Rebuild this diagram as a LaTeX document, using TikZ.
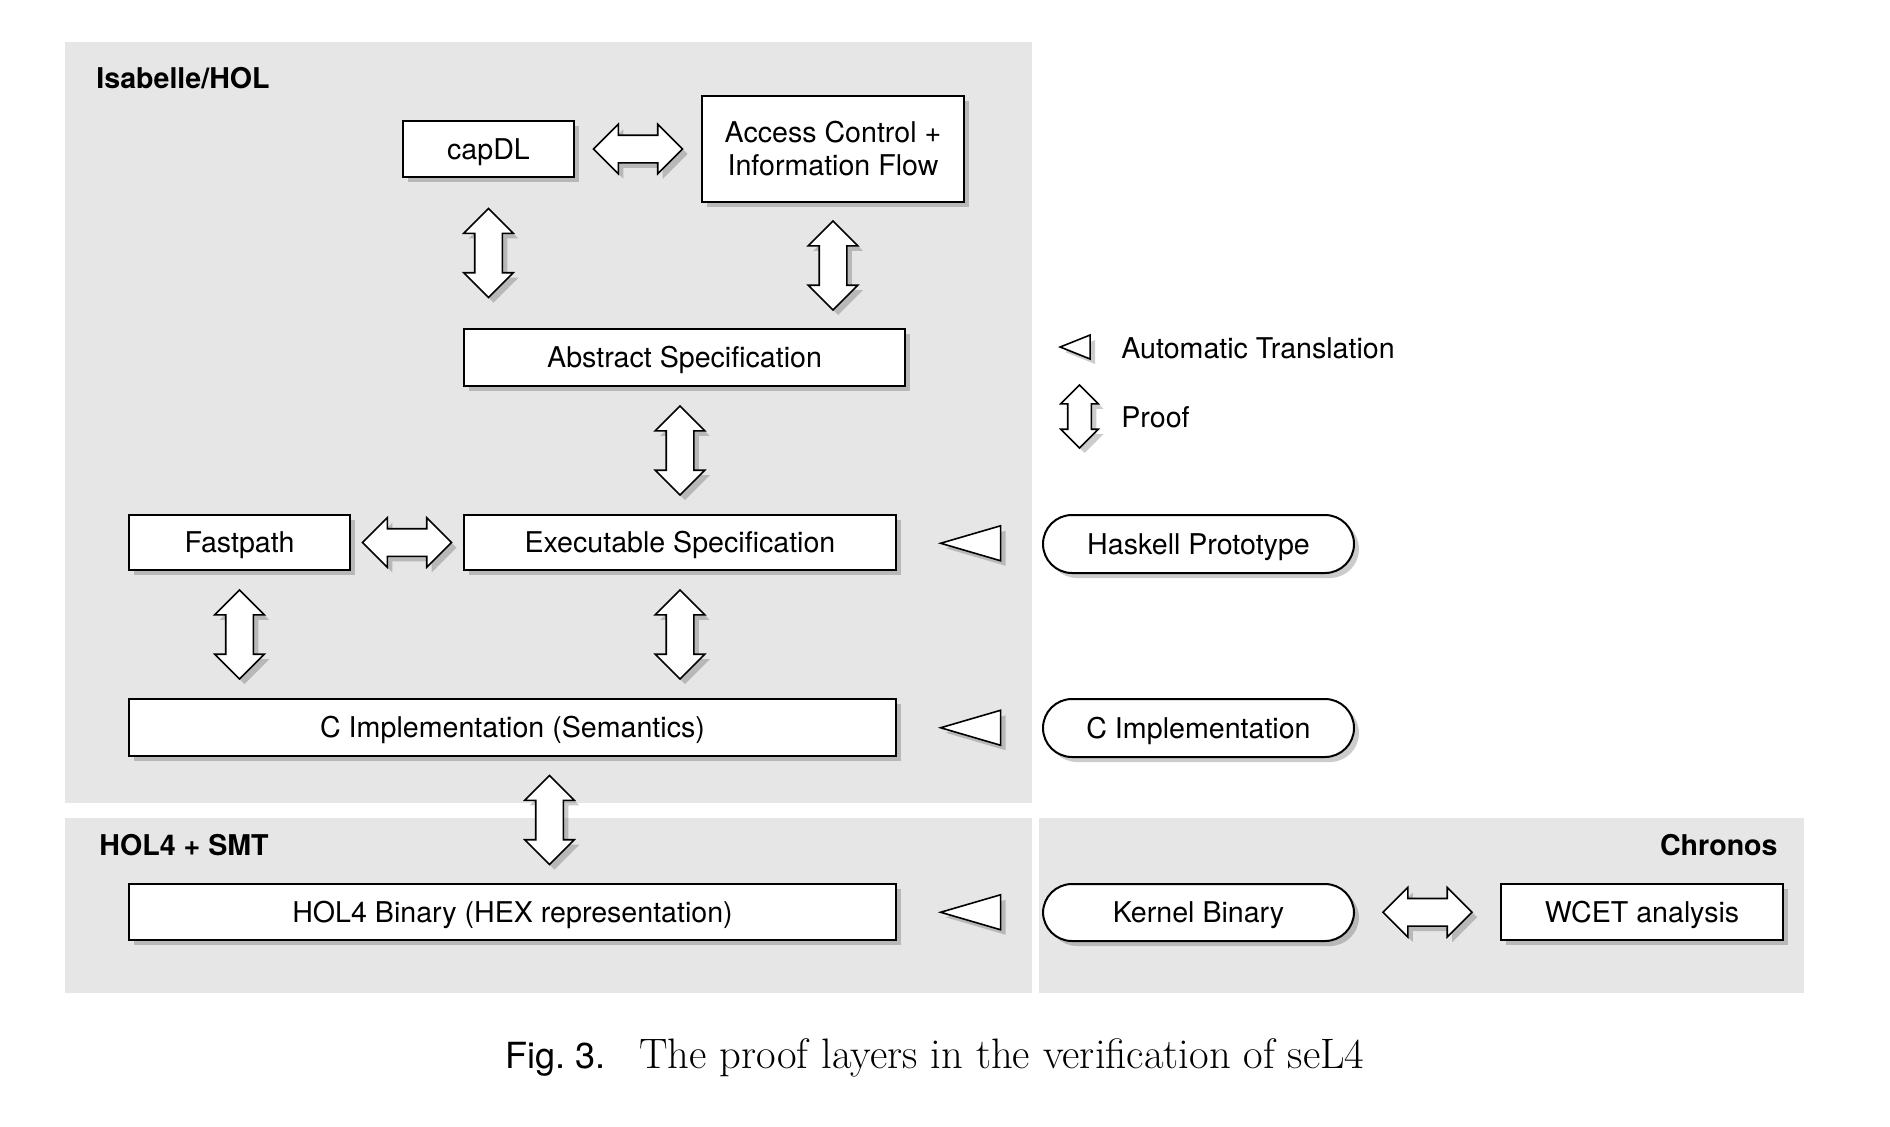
\documentclass[tikz,border=0pt]{standalone}
\usepackage{fontspec}
\setsansfont{TeX Gyre Heros}
\usetikzlibrary{shapes.arrows,shapes.geometric,shadows,calc}

\definecolor{panelgray}{RGB}{230,230,230}

\tikzset{
  shade/.style={drop shadow={shadow xshift=2.5pt, shadow yshift=-2.5pt, fill=black, opacity=.2}},
  box/.style={draw, line width=1pt, fill=white, inner sep=1pt, shade,
    font=\sffamily\fontsize{14.3}{16.5}\selectfont},
  onerow/.style={text height=10.3pt, text depth=0pt},
  pill/.style={box, onerow, rounded corners=14.5pt},
  proof/.style={double arrow, draw, line width=.8pt, fill=white, inner xsep=0pt, inner ysep=6.5pt, shade,
    minimum height=44.5pt, minimum width=24pt, double arrow head extend=5.5pt},
  vproof/.style={proof, shape border rotate=90, inner xsep=6.5pt, inner ysep=0pt},
  transl/.style={isosceles triangle, isosceles triangle stretches, shape border rotate=180,
    draw, line width=.8pt, fill=white, inner sep=0pt, shade, minimum width=17.5pt, minimum height=30pt},
  tag/.style={font=\sffamily\bfseries\fontsize{14.3}{16.5}\selectfont, inner sep=0pt},
  legend/.style={font=\sffamily\fontsize{14.3}{16.5}\selectfont, inner sep=0pt, anchor=west}
}

\begin{document}
\begin{tikzpicture}[x=0.5pt,y=-0.5pt]
  \useasboundingbox (0,0) rectangle (1890,1126);

  % tool panels
  \fill[panelgray] (65,42) rectangle (1032,803);
  \fill[panelgray] (65,818) rectangle (1032,993);
  \fill[panelgray] (1039,818) rectangle (1804,993);
  \node[tag, anchor=west] (isa) at (96,78) {Isabelle/HOL};
  \node[tag, anchor=west] (hol) at (99,845) {HOL4 + SMT};
  \node[tag, anchor=east] (chr) at (1778,845) {Chronos};

  % specification layers
  \node[box, onerow, minimum width=85.5pt, minimum height=28pt] (capdl) at (488.5,149) {capDL};
  \node[box, minimum width=131pt, minimum height=53pt, align=center] (acif) at (833,149) {Access Control +\\Information Flow};
  \node[box, onerow, minimum width=220.5pt, minimum height=28.5pt] (abs) at (684.5,357.5) {Abstract Specification};
  \node[box, onerow, minimum width=110.5pt, minimum height=27.5pt] (fast) at (239.5,542.5) {Fastpath};
  \node[box, onerow, minimum width=216pt, minimum height=27.5pt] (exec) at (680,542.5) {Executable Specification};
  \node[box, onerow, minimum width=383.5pt, minimum height=28.5pt] (csem) at (512.5,727.5) {C Implementation (Semantics)};
  \node[box, onerow, minimum width=383.5pt, minimum height=28pt] (hol4) at (512.5,912) {HOL4 Binary (HEX representation)};

  % sources outside Isabelle
  \node[pill, minimum width=155.5pt, minimum height=29pt] (hask) at (1198.5,544) {Haskell Prototype};
  \node[pill, minimum width=155.5pt, minimum height=29pt] (cimpl) at (1198.5,728) {C Implementation};
  \node[pill, minimum width=155.5pt, minimum height=28.5pt] (kbin) at (1198.5,912.5) {Kernel Binary};
  \node[box, onerow, minimum width=141pt, minimum height=28pt] (wcet) at (1642,912) {WCET analysis};

  % proofs
  \node[proof] (p1) at ($(capdl.east)!.5!(acif.west)$) {};
  \node[vproof] (p2) at ($(capdl.south)!.5!(capdl.south |- abs.north)$) {};
  \node[vproof] (p3) at ($(acif.south)!.5!(acif.south |- abs.north)$) {};
  \node[vproof] (p4) at ($(exec.north)!.5!(exec.north |- abs.south)$) {};
  \node[proof] (p5) at ($(fast.east)!.5!(exec.west)$) {};
  \node[vproof] (p6) at ($(fast.south)!.5!(fast.south |- csem.north)$) {};
  \node[vproof] (p7) at ($(exec.south)!.5!(exec.south |- csem.north)$) {};
  \node[vproof] (p8) at ($(csem.south)!.5!(hol4.north)+(37,0)$) {};
  \node[proof] (p9) at ($(kbin.east)!.5!(wcet.west)$) {};

  % translations
  \node[transl, xshift=9pt] (t1) at ($(exec.east)!.5!(hask.west)$) {};
  \node[transl, xshift=9pt] (t2) at ($(csem.east)!.5!(cimpl.west)$) {};
  \node[transl, xshift=9pt] (t3) at ($(hol4.east)!.5!(kbin.west)$) {};

  % legend
  \node[transl, minimum width=12pt, minimum height=15pt] (lt) at (1082,347) {};
  \node[legend] (ltxt) at (1121,348) {Automatic Translation};
  \node[vproof, minimum height=31.5pt, minimum width=17.5pt,
    inner xsep=5.5pt, double arrow head extend=3.5pt] (lp) at (1079.5,416.5) {};
  \node[legend] (lptxt) at (1121,417) {Proof};

  \node[inner sep=0pt] (cap) at (935,1058) {{\sffamily\fontsize{18}{20}\selectfont Fig.~3.}\hspace{17pt}{\rmfamily\fontsize{21.3}{24}\selectfont The proof layers in the verification of seL4}};
\end{tikzpicture}
\end{document}
